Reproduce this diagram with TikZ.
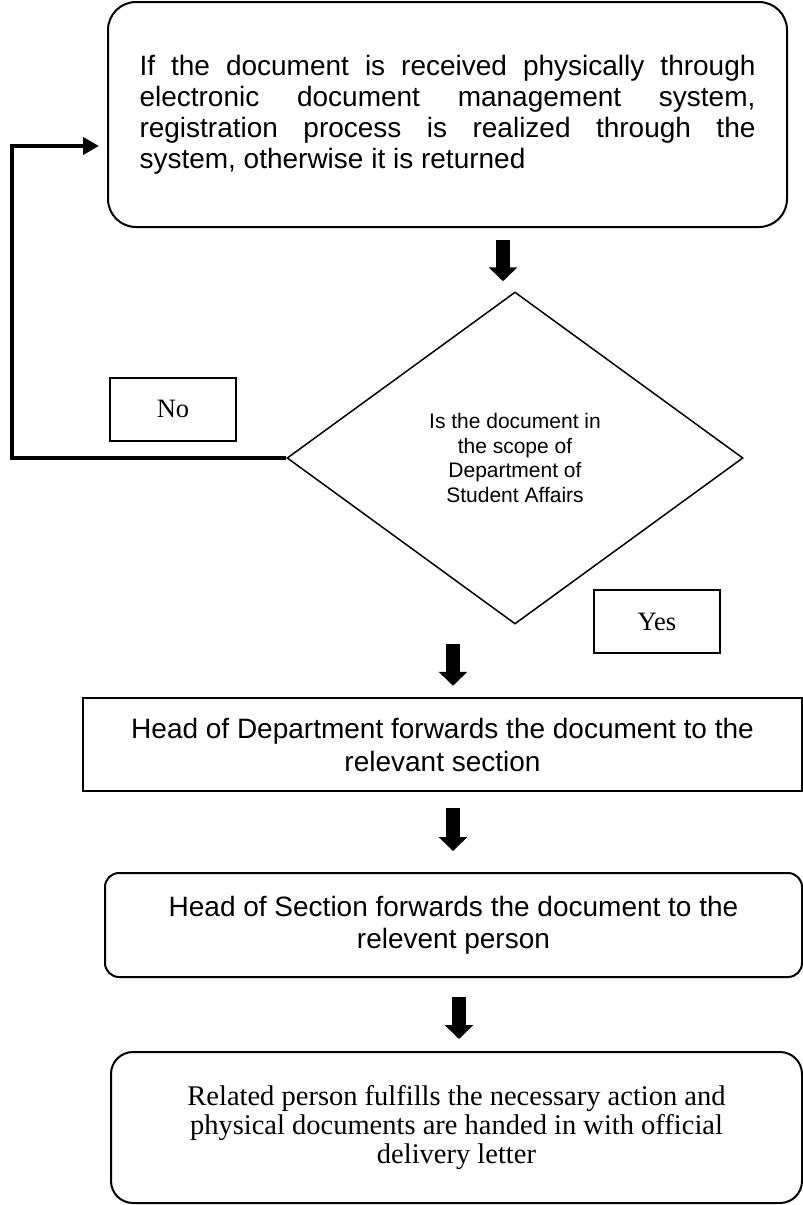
\documentclass[tikz,border=0pt]{standalone}
\usepackage{fontspec}
\setmainfont{Liberation Serif}
\setsansfont{Liberation Sans}
\usetikzlibrary{shapes.geometric,arrows.meta}
\tolerance=10000 \hyphenpenalty=10000
\begin{document}
\begin{tikzpicture}[x=1pt,y=-1pt,
  roundbox/.style={draw,line width=2pt,rounded corners=#1,inner sep=0pt},
  squarebox/.style={draw,line width=2.5pt,inner sep=0pt},
  tagbox/.style={draw,line width=2pt,minimum width=126pt,minimum height=63pt,font=\rmfamily\fontsize{26.5}{30}\selectfont},
  fat/.style={line width=14pt,-{Triangle[width=28pt,length=14pt]}},
  back/.style={line width=4pt,-{Triangle[width=17pt,length=16pt]}}]
\useasboundingbox (0,0) rectangle (803,1205);
\node[roundbox=28pt,minimum width=679pt,minimum height=225pt,text width=616pt,align=justify,font=\sffamily\fontsize{28}{31}\selectfont] (top) at (447.5,114.5) {If the document is received physically through electronic document management system, registration process is realized through the system, otherwise it is returned};
\node[draw,diamond,line width=1.5pt,minimum width=456pt,minimum height=332pt,inner sep=0pt,align=center,font=\sffamily\fontsize{21}{24.5}\selectfont] (dec) at (515,458) {Is the document in\\the scope of\\Department of\\Student Affairs};
\node[tagbox] (no) at (173,409) {No};
\node[tagbox] (yes) at (657,621.5) {Yes};
\node[squarebox,minimum width=719pt,minimum height=93pt,align=center,font=\sffamily\fontsize{28}{33}\selectfont] (dept) at (442.5,744.5) {Head of Department forwards the document to the\\relevant section};
\node[roundbox=14pt,minimum width=697pt,minimum height=104pt,align=center,font=\sffamily\fontsize{28}{32}\selectfont] (sect) at (453.5,925) {Head of Section forwards the document to the\\relevent person};
\node[roundbox=22pt,minimum width=691pt,minimum height=151pt,align=center,font=\rmfamily\fontsize{28.5}{29}\selectfont] (rel) at (456.5,1127.5) {Related person fulfills the necessary action and\\physical documents are handed in with official\\delivery letter};
% arrow columns
\coordinate (x1) at (503,0);\coordinate (x2) at (453,0);\coordinate (x3) at (459,0);
\draw[fat,shorten <=12pt,shorten >=10pt] (top.south -| x1) -- (dec.north -| x1);
\draw[fat,shorten <=19pt,shorten >=11pt] (dec.south -| x2) -- (dept.north -| x2);
\draw[fat,shorten <=16pt,shorten >=21pt] (dept.south -| x2) -- (sect.north -| x2);
\draw[fat,shorten <=19pt,shorten >=12pt] (sect.south -| x3) -- (rel.north -| x3);
% way back
\coordinate (turn) at (12,146);
\draw[back,shorten >=8pt] (dec.west) -| (turn) -- (top.west |- turn);
\end{tikzpicture}
\end{document}
